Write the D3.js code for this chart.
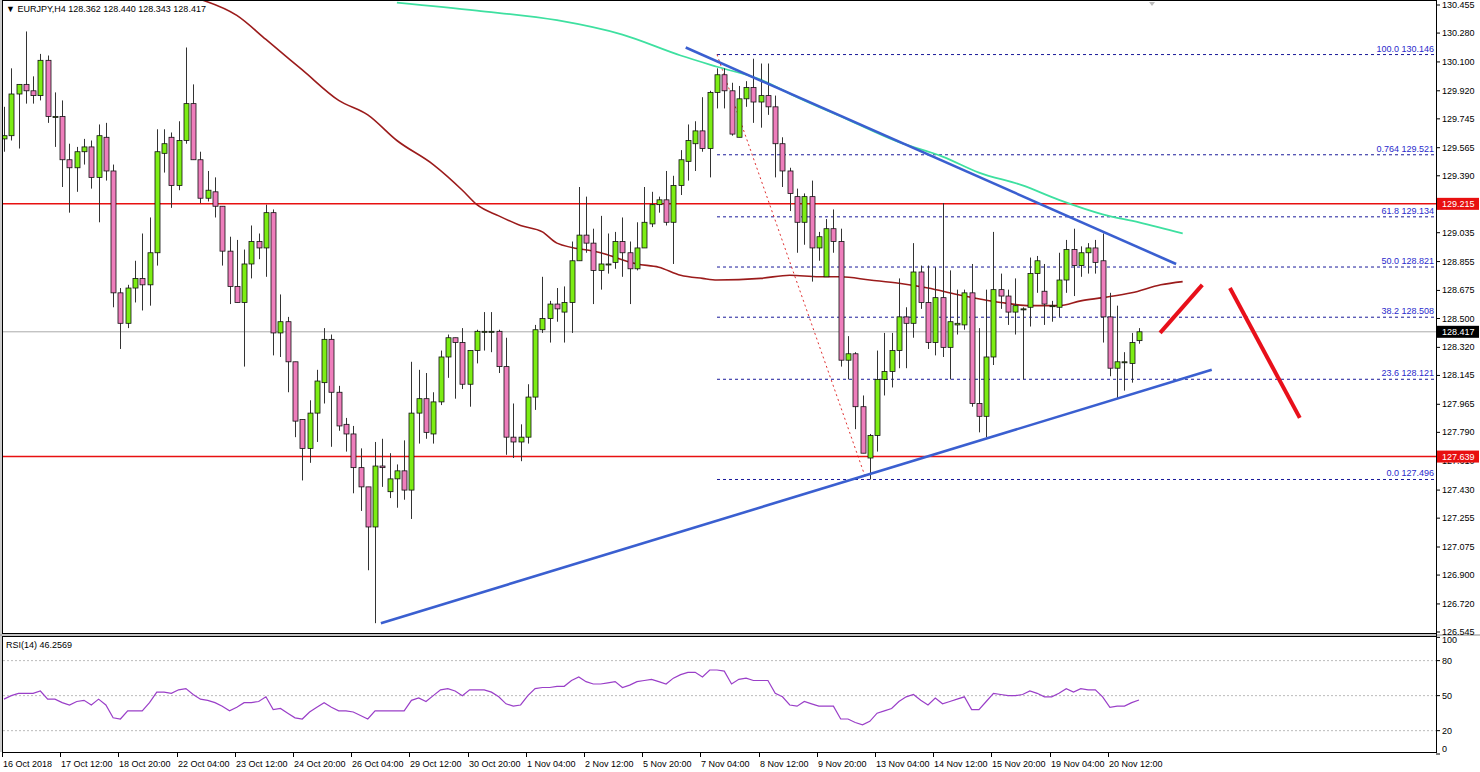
<!DOCTYPE html>
<html><head><meta charset="utf-8">
<script src="https://cdn.jsdelivr.net/npm/d3@7/dist/d3.min.js"></script>
<style>body{margin:0;background:#fff;}svg{display:block;font-family:"Liberation Sans",Arial,sans-serif;}</style>
</head><body>
<script>
// OHLC per H4 bar
const candles = [
[129.62,129.82,129.54,129.64],[129.64,130.06,129.61,129.90],[129.90,129.96,129.56,129.96],[129.96,130.29,129.84,129.92],
[129.92,130.01,129.84,129.89],[129.89,130.15,129.86,130.11],[130.11,130.14,129.72,129.76],[129.76,129.91,129.57,129.76],
[129.76,129.86,129.32,129.49],[129.49,129.59,129.16,129.44],[129.44,129.57,129.29,129.54],[129.54,129.62,129.46,129.57],
[129.57,129.61,129.31,129.38],[129.38,129.71,129.10,129.64],[129.63,129.72,129.36,129.42],[129.42,129.46,128.57,128.66],
[128.66,128.69,128.31,128.47],[128.47,128.71,128.44,128.69],[128.69,128.86,128.60,128.75],[128.75,129.03,128.55,128.71],
[128.71,129.13,128.58,128.91],[128.91,129.68,128.83,129.54],[129.53,129.68,129.41,129.59],[129.63,129.66,129.19,129.33],
[129.33,129.73,129.30,129.61],[129.61,130.19,129.59,129.84],[129.84,129.96,129.49,129.49],[129.49,129.54,129.22,129.25],
[129.25,129.42,129.23,129.30],[129.29,129.38,129.13,129.20],[129.20,129.20,128.83,128.92],[128.92,129.01,128.59,128.70],
[128.70,128.99,128.60,128.60],[128.60,128.93,128.20,128.84],[128.84,129.08,128.75,128.98],[128.98,129.03,128.87,128.94],
[128.94,129.21,128.76,129.16],[129.16,129.18,128.27,128.41],[128.41,128.65,128.26,128.48],[128.48,128.51,128.04,128.23],
[128.23,128.23,127.76,127.86],[127.87,127.87,127.49,127.69],[127.69,127.99,127.60,127.91],[127.91,128.18,127.73,128.11],
[128.10,128.44,127.97,128.37],[128.37,128.40,127.70,128.04],[128.04,128.08,127.80,127.83],[127.84,127.88,127.67,127.78],
[127.78,127.83,127.41,127.57],[127.57,127.69,127.30,127.45],[127.45,127.45,126.93,127.20],[127.20,127.73,126.60,127.58],
[127.58,127.75,127.45,127.57],[127.42,127.66,127.38,127.50],[127.50,127.59,127.32,127.55],[127.55,127.74,127.37,127.43],
[127.43,128.23,127.25,127.91],[127.91,128.18,127.72,128.00],[128.00,128.16,127.75,127.79],[127.78,128.04,127.72,127.98],
[127.98,128.30,127.96,128.26],[128.26,128.40,128.13,128.38],[128.38,128.38,128.00,128.35],[128.35,128.44,128.06,128.09],
[128.09,128.30,127.95,128.30],[128.30,128.43,128.22,128.42],[128.42,128.54,128.30,128.42],[128.42,128.54,128.29,128.42],
[128.42,128.43,128.16,128.20],[128.20,128.38,127.65,127.76],[127.76,127.97,127.63,127.73],[127.73,127.84,127.61,127.76],
[127.76,128.09,127.72,128.01],[128.01,128.46,127.93,128.43],[128.43,128.76,128.41,128.50],[128.50,128.61,128.35,128.59],
[128.59,128.69,128.48,128.56],[128.54,128.70,128.35,128.60],[128.60,128.98,128.41,128.86],[128.86,129.32,128.86,129.02],
[129.02,129.26,128.91,128.97],[128.97,129.06,128.59,128.80],[128.80,129.14,128.68,128.84],[128.84,129.03,128.78,128.84],
[128.85,129.04,128.81,128.98],[128.98,129.13,128.76,128.91],[128.91,128.98,128.59,128.81],[128.81,129.10,128.80,128.94],
[128.94,129.32,128.94,129.10],[129.09,129.29,129.07,129.21],[129.21,129.26,129.16,129.24],[129.24,129.42,129.08,129.10],
[129.10,129.39,128.84,129.33],[129.33,129.55,129.27,129.49],[129.48,129.71,129.36,129.61],[129.59,129.73,129.42,129.67],
[129.67,129.88,129.54,129.56],[129.56,129.92,129.38,129.91],[129.91,130.06,129.81,130.02],[130.02,130.06,129.81,129.92],
[129.92,129.97,129.64,129.65],[129.63,129.95,129.63,129.87],[129.87,129.98,129.82,129.94],[129.94,130.12,129.72,129.85],
[129.85,130.09,129.69,129.89],[129.89,130.09,129.77,129.82],[129.82,129.89,129.38,129.59],[129.59,129.63,129.32,129.42],
[129.42,129.44,129.17,129.28],[129.26,129.31,128.91,129.10],[129.10,129.28,128.96,129.26],[129.26,129.36,128.73,128.94],
[128.94,129.04,128.86,129.01],[128.76,129.12,128.76,129.06],[129.06,129.18,128.91,128.98],[128.98,129.06,128.20,128.24],
[128.24,128.39,128.12,128.28],[128.28,128.29,127.81,127.95],[127.95,128.02,127.66,127.66],[127.63,127.78,127.496,127.77],
[127.77,128.30,127.67,128.12],[128.12,128.41,128.02,128.17],[128.17,128.41,128.07,128.30],[128.30,128.75,128.19,128.51],
[128.51,128.57,128.19,128.47],[128.47,128.97,128.38,128.79],[128.79,128.83,128.56,128.60],[128.60,128.83,128.31,128.35],
[128.35,128.82,128.27,128.63],[128.63,129.22,128.26,128.32],[128.32,128.80,128.12,128.48],[128.46,128.68,128.40,128.47],
[128.46,128.68,128.43,128.66],[128.66,128.84,127.95,127.97],[127.97,128.44,127.79,127.89],[127.89,128.68,127.76,128.26],
[128.26,129.04,128.21,128.68],[128.68,128.78,128.56,128.64],[128.64,128.68,128.46,128.54],[128.54,128.75,128.40,128.58],
[128.56,128.57,128.12,128.56],[128.57,128.88,128.45,128.78],[128.78,128.89,128.66,128.86],[128.67,128.84,128.46,128.59],
[128.58,128.61,128.48,128.58],[128.57,128.91,128.51,128.74],[128.74,128.99,128.66,128.93],[128.93,129.06,128.64,128.83],
[128.83,128.95,128.76,128.91],[128.91,128.97,128.78,128.94],[128.94,128.99,128.78,128.85],[128.86,129.03,128.35,128.51],
[128.51,128.66,128.14,128.19],[128.19,128.58,128.00,128.23],[128.23,128.29,128.05,128.23],[128.22,128.41,128.10,128.35],
[128.362,128.440,128.343,128.417]
];
const rsi = [47,50,52,52,52,54,47,47,44,42,45,46,42,47,42,31,30,37,37,37,44,53,53,52,55,56,51,47,46,44,41,37,40,44,44,45,49,38,39,35,
31,30,36,40,44,40,37,37,36,33,30,37,37,37,37,37,46,48,45,50,55,56,54,50,55,55,55,53,49,43,41,42,50,56,57,57,58,58,63,66,
62,60,60,61,62,57,59,62,63,64,62,60,65,68,70,70,66,72,72,71,60,64,65,63,63,63,52,49,42,41,45,43,41,41,41,30,30,27,25,28,
35,37,39,45,49,51,46,42,48,43,45,47,49,38,38,45,52,51,50,50,51,54,52,49,49,52,56,53,56,55,55,49,40,41,41,44,46.2569];
// moving averages: [bar, price]
const maRed = [[27,130.49],[32,130.39],[36,130.24],[41,130.05],[46,129.86],[50,129.77],[54,129.61],[59,129.46],[63,129.30],[65,129.21],
[68,129.14],[71,129.08],[74,129.04],[76,128.97],[82,128.91],[87,128.84],[90,128.82],[93,128.77],[96,128.75],[98,128.74],[104,128.75],
[108,128.77],[112,128.76],[115,128.76],[119,128.74],[123,128.72],[127,128.69],[131,128.65],[137,128.60],[141,128.58],[145,128.58],
[148,128.61],[151,128.63],[155,128.66],[159,128.71],[162,128.73]];
const maGreen = [[54,130.47],[65,130.42],[76,130.36],[85,130.27],[93,130.14],[98,130.07],[104,129.99],[109,129.88],[116,129.74],
[123,129.60],[129,129.51],[134,129.41],[140,129.33],[145,129.24],[151,129.15],[156,129.10],[162,129.03]];
const priceTicks = [130.455,130.280,130.100,129.920,129.745,129.565,129.390,129.035,128.855,128.675,128.500,128.320,128.145,127.965,127.790,127.610,127.430,127.255,127.075,126.900,126.720,126.545];
const fibLevels = [["100.0",130.146],["0.764",129.521],["61.8",129.134],["50.0",128.821],["38.2",128.508],["23.6",128.121],["0.0",127.496]];
const supportRes = [129.215,127.639];
const lastPrice = 128.417;
const trendLines = [[[51.8,126.60],[166,128.18]],[[93.7,130.19],[161.1,128.84]]];
const arrows = [[[158.9,128.41],[164.7,128.71]],[[168.5,128.69],[178.1,127.88]]];
const fibDiag = [[98,130.146],[118.5,127.496]];
const timeLabels = ["16 Oct 2018","17 Oct 12:00","18 Oct 20:00","22 Oct 04:00","23 Oct 12:00","24 Oct 20:00","26 Oct 04:00","29 Oct 12:00","30 Oct 20:00","1 Nov 04:00","2 Nov 12:00","5 Nov 20:00","7 Nov 04:00","8 Nov 12:00","9 Nov 20:00","13 Nov 04:00","14 Nov 12:00","15 Nov 20:00","19 Nov 04:00","20 Nov 12:00"];
const rsiTicks = [100,80,50,20,0];

const W=1480,H=772, R=1436;
const svg=d3.select("body").append("svg").attr("width",W).attr("height",H);
const x=d3.scaleLinear().domain([0,156]).range([4,1139]);
const y=d3.scaleLinear().domain([126.545,130.455]).range([632,5]);
const yr=d3.scaleLinear().domain([0,100]).range([754,637.3]);
svg.append("defs").append("clipPath").attr("id","cp").append("rect").attr("x",2).attr("y",1).attr("width",R-2).attr("height",632);
const g=svg.append("g").attr("clip-path","url(#cp)");

svg.append("rect").attr("x",2.5).attr("y",0.5).attr("width",R-2).attr("height",633).attr("fill","none").attr("stroke","#000");
svg.append("line").attr("x1",1).attr("x2",1).attr("y1",0).attr("y2",752).attr("stroke","#999");
svg.append("rect").attr("x",2.5).attr("y",636.5).attr("width",R-2).attr("height",116).attr("fill","none").attr("stroke","#000");
svg.append("line").attr("x1",0).attr("x2",W).attr("y1",635).attr("y2",635).attr("stroke","#888");

fibLevels.forEach(([n,v])=>{
  g.append("line").attr("x1",x(98)).attr("x2",R).attr("y1",y(v)).attr("y2",y(v)).attr("stroke","#1a1a9a").attr("stroke-dasharray","3,3");
  svg.append("text").attr("x",R-2).attr("y",y(v)-3).attr("text-anchor","end").attr("font-size",9).attr("fill","#2a2acc").text(n+" "+v.toFixed(3));
});
g.append("line").attr("x1",x(fibDiag[0][0])).attr("y1",y(fibDiag[0][1])).attr("x2",x(fibDiag[1][0])).attr("y2",y(fibDiag[1][1])).attr("stroke","#e03030").attr("stroke-dasharray","2,3");
g.append("line").attr("x1",2).attr("x2",R).attr("y1",y(lastPrice)).attr("y2",y(lastPrice)).attr("stroke","#aaa");
supportRes.forEach(v=>g.append("line").attr("x1",2).attr("x2",R).attr("y1",y(v)).attr("y2",y(v)).attr("stroke","#e81010").attr("stroke-width",1.5));
const line=d3.line().x(d=>x(d[0])).y(d=>y(d[1])).curve(d3.curveMonotoneX);
g.append("path").attr("d",line(maRed)).attr("fill","none").attr("stroke","#9b1b1b").attr("stroke-width",1.6);
g.append("path").attr("d",line(maGreen)).attr("fill","none").attr("stroke","#3ee0a0").attr("stroke-width",1.8);
const cg=g.append("g");
candles.forEach((c,i)=>{
  const [o,h,l,cl]=c, up=cl>=o, cx=Math.round(x(i))+0.5;
  cg.append("line").attr("x1",cx).attr("x2",cx).attr("y1",y(h)).attr("y2",y(l)).attr("stroke","#333");
  const top=y(Math.max(o,cl)), bot=y(Math.min(o,cl));
  cg.append("rect").attr("x",cx-2.5).attr("y",top).attr("width",5).attr("height",Math.max(1,bot-top))
    .attr("fill",up?"#7ced14":"#ee7ebc").attr("stroke","#111").attr("stroke-width",0.8);
});
trendLines.forEach(t=>g.append("line").attr("x1",x(t[0][0])).attr("y1",y(t[0][1])).attr("x2",x(t[1][0])).attr("y2",y(t[1][1])).attr("stroke","#3a5fd0").attr("stroke-width",2.6));
arrows.forEach(t=>g.append("line").attr("x1",x(t[0][0])).attr("y1",y(t[0][1])).attr("x2",x(t[1][0])).attr("y2",y(t[1][1])).attr("stroke","#e8101a").attr("stroke-width",4));
svg.append("path").attr("d","M1149,2 L1155,2 L1152,6 Z").attr("fill","#bbb");

const ax=svg.append("g");
priceTicks.forEach(v=>{
  ax.append("line").attr("x1",R).attr("x2",R+4).attr("y1",y(v)).attr("y2",y(v)).attr("stroke","#000");
  ax.append("text").attr("x",R+6).attr("y",y(v)+3).attr("font-size",9).attr("fill","#000").text(v.toFixed(3));
});
function boxLabel(v,fill){
  ax.append("rect").attr("x",R+1).attr("y",y(v)-6).attr("width",W-R-2).attr("height",12).attr("fill",fill);
  ax.append("text").attr("x",R+6).attr("y",y(v)+3.5).attr("font-size",9).attr("fill","#fff").text(v.toFixed(3));
}
supportRes.forEach(v=>boxLabel(v,"#e81010"));
boxLabel(lastPrice,"#000");
svg.append("line").attr("x1",R+0.5).attr("x2",R+0.5).attr("y1",0).attr("y2",753).attr("stroke","#000");

svg.append("text").attr("x",6).attr("y",12).attr("font-size",9).text("▼ EURJPY,H4  128.362 128.440 128.343 128.417");

[80,50,20].forEach(v=>svg.append("line").attr("x1",3).attr("x2",R).attr("y1",yr(v)).attr("y2",yr(v)).attr("stroke","#bbb").attr("stroke-dasharray","2,2"));
svg.append("path").attr("d",d3.line().x((d,i)=>x(i)).y(d=>yr(d))(rsi)).attr("fill","none").attr("stroke","#9a3fc8").attr("stroke-width",1.2);
svg.append("text").attr("x",6).attr("y",648).attr("font-size",9).text("RSI(14) 46.2569");
rsiTicks.forEach(v=>{
  svg.append("line").attr("x1",R).attr("x2",R+4).attr("y1",yr(v)).attr("y2",yr(v)).attr("stroke","#000");
  svg.append("text").attr("x",R+6).attr("y",yr(v)+(v===100?6:v===0?-2:3)).attr("font-size",9).text(v);
});

timeLabels.forEach((t,k)=>{
  const tx=Math.round(x(k*8))-2;
  svg.append("line").attr("x1",tx+0.5).attr("x2",tx+0.5).attr("y1",753).attr("y2",757).attr("stroke","#000");
  svg.append("text").attr("x",tx+1).attr("y",767).attr("font-size",9).text(t);
});
</script>
</body></html>
